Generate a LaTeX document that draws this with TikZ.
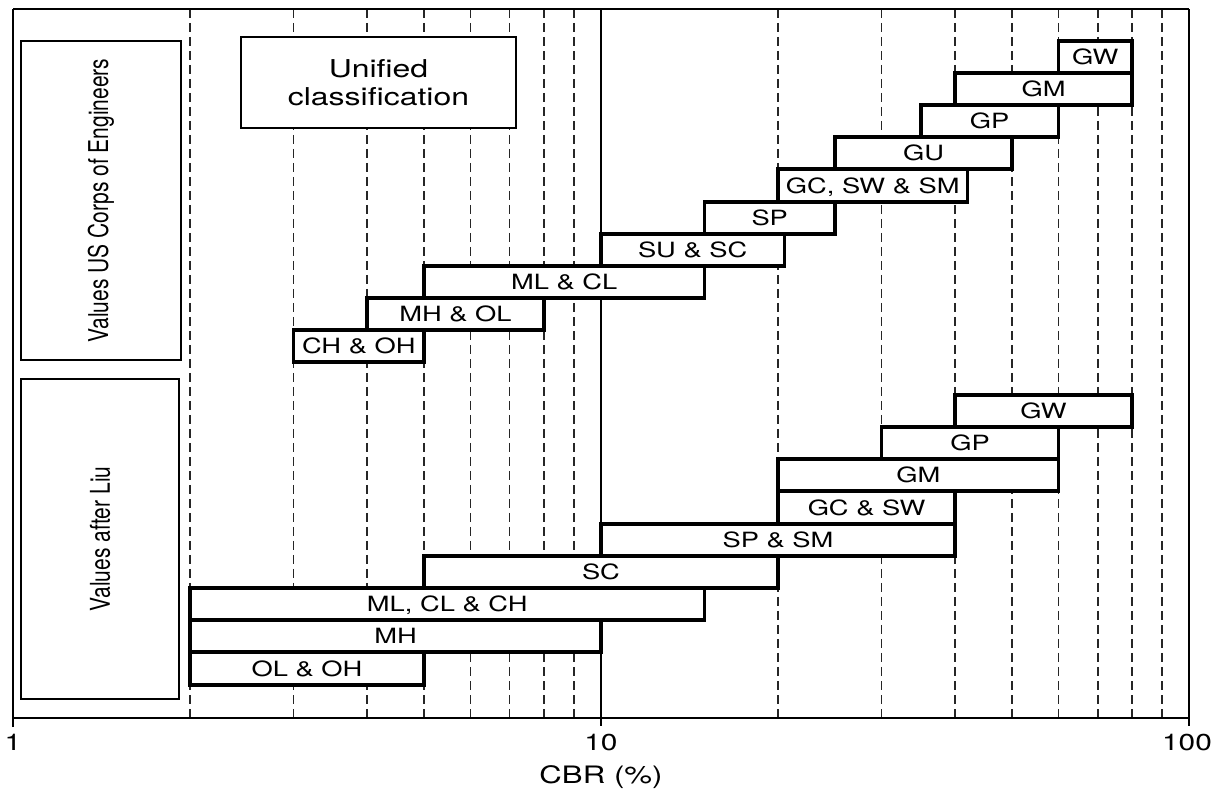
\documentclass[tikz,border=0pt]{standalone}
\usepackage{fontspec}
\setmainfont{TeX Gyre Heros}
\usepackage{graphicx}
\usetikzlibrary{fit, positioning}
\newcommand{\wide}[1]{\scalebox{1.3}[1]{#1}} % the chart is stretched sideways
\newcommand{\tall}[1]{\scalebox{1}[1.3]{#1}} % same stretch for the turned titles
\tikzset{
    x=0.5pt, y=-0.5pt, % one unit is one pixel of the chart, y runs down
    declare function={lx(\v)=13+588*log10(\v);}, % place of a CBR value on the log axis
    cbrbar/.style={draw, line width=1.7pt, fill=white, inner sep=0pt}, % one range of CBR values
    barlabel/.style={inner sep=0pt, text height=7.6pt, text depth=0pt, font=\fontsize{10.5}{12}\selectfont},
    titlebox/.style={draw, line width=1pt, fill=white, inner sep=0pt}, % boxes with the titles
    minor/.style={dash pattern=on 4.5pt off 2.5pt, line width=0.6pt, black!85}, % dashed lines of the log grid
    axisline/.style={line width=1pt},
    ticklabel/.style={font=\fontsize{11.5}{13}\selectfont, inner sep=0pt, text height=8.2pt, text depth=0pt},
}
\begin{document}
\begin{tikzpicture}
    \useasboundingbox (0,0) rectangle (1221,790);
    % grid
    \foreach \v in {2,...,9} \draw[minor] ({lx(\v)},9) -- ({lx(\v)},718);
    \foreach \v in {20,30,...,90} \draw[minor] ({lx(\v)},9) -- ({lx(\v)},718);
    \draw[line width=1.3pt] ({lx(10)},9) -- ({lx(10)},726);
    % frame and axis
    \draw[axisline] (13,718) -- (1189,718);
    \draw[axisline] (13,9) -- (1189,9);
    \draw[line width=1.3pt] (13,727) -- (13,9);
    \draw[line width=1.3pt] (1189,9) -- (1189,726);
    \node[ticklabel] (t1) at (13,742) {\wide{1}};
    \node[ticklabel] (t10) at ({lx(10)},742) {\wide{10}};
    \node[ticklabel] (t100) at (1187,742) {\wide{100}};
    \node[ticklabel, font=\fontsize{12}{14}\selectfont, text height=8.6pt] (cbr) at ({lx(10)},775) {\wide{CBR (\%)}};
    % titles
    \node[titlebox, fit={(21,41) (181,360)}] (usbox) {};
    \node[rotate=90, font=\fontsize{10.5}{12}\selectfont] (ustext) at (usbox.center) {\tall{Values US Corps of Engineers}};
    \node[titlebox, fit={(21,379) (179,699)}] (liubox) {};
    \node[rotate=90, font=\fontsize{10.5}{12}\selectfont] (liutext) at (liubox.center) {\tall{Values after Liu}};
    \node[titlebox, fit={(241,37) (516,128)}] (ucbox) {};
    \node[align=center, font=\fontsize{12.3}{14}\selectfont] (uctext) at (ucbox.center) {\wide{Unified}\\\wide{classification}};
    % US Corps of Engineers
    \node[cbrbar, fit={({lx(60)},41) ({lx(80)},73)}] (ugw) {};
    \node[cbrbar, fit={({lx(40)},73) ({lx(80)},105)}] (ugm) {};
    \node[cbrbar, fit={({lx(35)},105) ({lx(60)},137)}] (ugp) {};
    \node[cbrbar, fit={({lx(25)},137) ({lx(50)},169)}] (ugu) {};
    \node[cbrbar, fit={({lx(20)},169) ({lx(42)},202)}] (ugc) {};
    \node[cbrbar, fit={({lx(15)},202) ({lx(25)},234)}] (usp) {};
    \node[cbrbar, fit={({lx(10)},234) ({lx(20.5)},266)}] (usu) {};
    \node[cbrbar, fit={({lx(5)},266) ({lx(15)},298)}] (uml) {};
    \node[cbrbar, fit={({lx(4)},298) ({lx(8)},330)}] (umh) {};
    \node[cbrbar, fit={({lx(3)},330) ({lx(5)},362)}] (uch) {};
    \node[barlabel] at (ugw) {\wide{GW}};
    \node[barlabel] at (ugm) {\wide{GM}};
    \node[barlabel] at (ugp) {\wide{GP}};
    \node[barlabel] at (ugu) {\wide{GU}};
    \node[barlabel] at (ugc) {\wide{GC, SW \& SM}};
    \node[barlabel] at (usp) {\wide{SP}};
    \node[barlabel] at (usu) {\wide{SU \& SC}};
    \node[barlabel] at (uml) {\wide{ML \& CL}};
    \node[barlabel] at (umh) {\wide{MH \& OL}};
    \node[barlabel] at (uch) {\wide{CH \& OH}};
    % Liu
    \node[cbrbar, fit={({lx(40)},395) ({lx(80)},427)}] (lgw) {};
    \node[cbrbar, fit={({lx(30)},427) ({lx(60)},459)}] (lgp) {};
    \node[cbrbar, fit={({lx(20)},459) ({lx(60)},491)}] (lgm) {};
    \node[cbrbar, fit={({lx(20)},491) ({lx(40)},524)}] (lgc) {};
    \node[cbrbar, fit={({lx(10)},524) ({lx(40)},556)}] (lsp) {};
    \node[cbrbar, fit={({lx(5)},556) ({lx(20)},588)}] (lsc) {};
    \node[cbrbar, fit={({lx(2)},588) ({lx(15)},620)}] (lml) {};
    \node[cbrbar, fit={({lx(2)},620) ({lx(10)},652)}] (lmh) {};
    \node[cbrbar, fit={({lx(2)},652) ({lx(5)},685)}] (lol) {};
    \node[barlabel] at (lgw) {\wide{GW}};
    \node[barlabel] at (lgp) {\wide{GP}};
    \node[barlabel] at (lgm) {\wide{GM}};
    \node[barlabel] at (lgc) {\wide{GC \& SW}};
    \node[barlabel] at (lsp) {\wide{SP \& SM}};
    \node[barlabel] at (lsc) {\wide{SC}};
    \node[barlabel] at (lml) {\wide{ML, CL \& CH}};
    \node[barlabel] at (lmh) {\wide{MH}};
    \node[barlabel] at (lol) {\wide{OL \& OH}};
\end{tikzpicture}
\end{document}
